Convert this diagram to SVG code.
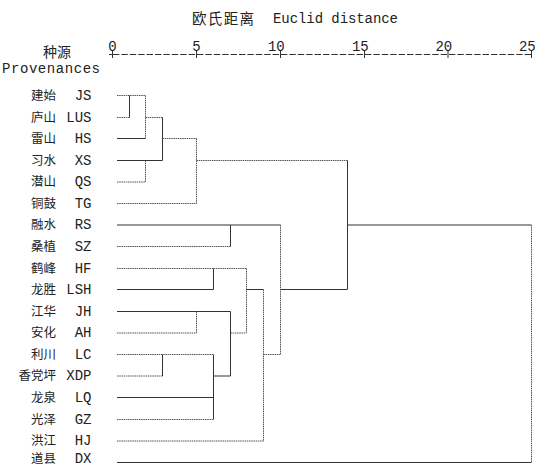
<svg xmlns="http://www.w3.org/2000/svg" width="535" height="467" viewBox="0 0 535 467">
<style>
.bg{fill:#fff}
.cn{font-family:"Noto Sans CJK SC","Noto Sans CJK JP",sans-serif;font-size:12.5px;fill:#222;text-anchor:end}
.cd{font-family:"Liberation Mono",monospace;font-size:14px;fill:#222;text-anchor:end}
.mono{font-family:"Liberation Mono",monospace;font-size:14px;fill:#222}
.s{stroke:#333;stroke-width:1;fill:none}
.d{stroke:#555;stroke-width:1;fill:none;stroke-dasharray:1.5 0.7}
.ax{stroke:#333;stroke-width:1;fill:none;stroke-dasharray:6.4 2}
.tk{stroke:#333;stroke-width:1}
</style>
<rect class="bg" x="0" y="0" width="535" height="467"/>
<g id="title">
<text x="192" y="24" style="font-family:'Noto Sans CJK SC',sans-serif;font-size:14.5px;fill:#222" textLength="62">欧氏距离</text>
<text class="mono" x="273" y="23" textLength="125">Euclid distance</text>
</g>
<g id="header">
<text x="43" y="57" style="font-family:'Noto Sans CJK SC',sans-serif;font-size:14px;fill:#222">种源</text>
<text class="mono" x="2" y="73" textLength="98">Provenances</text>
</g>
<g id="axis">
<line class="ax" x1="113" y1="54.5" x2="531.5" y2="54.5"/>
<line class="tk" x1="112.5" y1="51" x2="112.5" y2="58"/>
<line class="tk" x1="196.5" y1="51" x2="196.5" y2="58"/>
<line class="tk" x1="280.5" y1="51" x2="280.5" y2="58"/>
<line class="tk" x1="364.5" y1="51" x2="364.5" y2="58"/>
<line class="tk" x1="448" y1="51" x2="448" y2="58"/>
<line class="tk" x1="531.5" y1="51" x2="531.5" y2="58"/>
<line class="tk" x1="109" y1="54.5" x2="116" y2="54.5"/>
<text class="mono" x="112.5" y="50.5" text-anchor="middle">0</text>
<text class="mono" x="196.5" y="50.5" text-anchor="middle">5</text>
<text class="mono" x="284.7" y="50.5" text-anchor="end">10</text>
<text class="mono" x="368.7" y="50.5" text-anchor="end">15</text>
<text class="mono" x="452.2" y="50.5" text-anchor="end">20</text>
<text class="mono" x="535.7" y="50.5" text-anchor="end">25</text>
</g>
<g id="leaf-JS"><text class="cn" x="56" y="99.5">建始</text><text class="cd" x="91.5" y="99.5">JS</text></g>
<g id="leaf-LUS"><text class="cn" x="56" y="121.5">庐山</text><text class="cd" x="91.5" y="121.5">LUS</text></g>
<g id="leaf-HS"><text class="cn" x="56" y="142.5">雷山</text><text class="cd" x="91.5" y="142.5">HS</text></g>
<g id="leaf-XS"><text class="cn" x="56" y="164.5">习水</text><text class="cd" x="91.5" y="164.5">XS</text></g>
<g id="leaf-QS"><text class="cn" x="56" y="186">潜山</text><text class="cd" x="91.5" y="186">QS</text></g>
<g id="leaf-TG"><text class="cn" x="56" y="207.5">铜鼓</text><text class="cd" x="91.5" y="207.5">TG</text></g>
<g id="leaf-RS"><text class="cn" x="56" y="229">融水</text><text class="cd" x="91.5" y="229">RS</text></g>
<g id="leaf-SZ"><text class="cn" x="56" y="250.5">桑植</text><text class="cd" x="91.5" y="250.5">SZ</text></g>
<g id="leaf-HF"><text class="cn" x="56" y="272.5">鹤峰</text><text class="cd" x="91.5" y="272.5">HF</text></g>
<g id="leaf-LSH"><text class="cn" x="56" y="293.5">龙胜</text><text class="cd" x="91.5" y="293.5">LSH</text></g>
<g id="leaf-JH"><text class="cn" x="56" y="315.5">江华</text><text class="cd" x="91.5" y="315.5">JH</text></g>
<g id="leaf-AH"><text class="cn" x="56" y="337">安化</text><text class="cd" x="91.5" y="337">AH</text></g>
<g id="leaf-LC"><text class="cn" x="56" y="358.5">利川</text><text class="cd" x="91.5" y="358.5">LC</text></g>
<g id="leaf-XDP"><text class="cn" x="56" y="380">香党坪</text><text class="cd" x="91.5" y="380">XDP</text></g>
<g id="leaf-LQ"><text class="cn" x="56" y="401.5">龙泉</text><text class="cd" x="91.5" y="401.5">LQ</text></g>
<g id="leaf-GZ"><text class="cn" x="56" y="423.5">光泽</text><text class="cd" x="91.5" y="423.5">GZ</text></g>
<g id="leaf-HJ"><text class="cn" x="56" y="445">洪江</text><text class="cd" x="91.5" y="445">HJ</text></g>
<g id="leaf-DX"><text class="cn" x="56" y="462.5">道县</text><text class="cd" x="91.5" y="462.5">DX</text></g>
<g id="connectors">
<line class="d" x1="117" y1="95.5" x2="145.5" y2="95.5"/>
<line class="d" x1="117" y1="117.5" x2="129.5" y2="117.5"/>
<line class="s" x1="129.5" y1="95.5" x2="129.5" y2="117.5"/>
<line class="d" x1="145.5" y1="95.5" x2="145.5" y2="138.5"/>
<line class="s" x1="117" y1="138.5" x2="145.5" y2="138.5"/>
<line class="d" x1="145.5" y1="117.5" x2="162.5" y2="117.5"/>
<line class="s" x1="162.5" y1="117.5" x2="162.5" y2="160.5"/>
<line class="s" x1="117" y1="160.5" x2="162.5" y2="160.5"/>
<line class="d" x1="117" y1="182" x2="145.5" y2="182"/>
<line class="d" x1="145.5" y1="160.5" x2="145.5" y2="182"/>
<line class="d" x1="162.5" y1="138.5" x2="196.5" y2="138.5"/>
<line class="d" x1="196.5" y1="138.5" x2="196.5" y2="203.5"/>
<line class="d" x1="117" y1="203.5" x2="196.5" y2="203.5"/>
<line class="d" x1="196.5" y1="160.5" x2="347.5" y2="160.5"/>
<line class="s" x1="347.5" y1="160.5" x2="347.5" y2="289.5"/>
<line class="s" x1="117" y1="225" x2="280.5" y2="225"/>
<line class="d" x1="117" y1="246.5" x2="230.5" y2="246.5"/>
<line class="s" x1="230.5" y1="225" x2="230.5" y2="246.5"/>
<line class="d" x1="117" y1="268.5" x2="246.5" y2="268.5"/>
<line class="s" x1="117" y1="289.5" x2="213.5" y2="289.5"/>
<line class="s" x1="213.5" y1="268.5" x2="213.5" y2="289.5"/>
<line class="s" x1="117" y1="311.5" x2="230.5" y2="311.5"/>
<line class="d" x1="117" y1="333" x2="196.5" y2="333"/>
<line class="d" x1="196.5" y1="311.5" x2="196.5" y2="333"/>
<line class="d" x1="117" y1="354.5" x2="213.5" y2="354.5"/>
<line class="d" x1="117" y1="376" x2="162.5" y2="376"/>
<line class="s" x1="162.5" y1="354.5" x2="162.5" y2="376"/>
<line class="s" x1="117" y1="397.5" x2="213.5" y2="397.5"/>
<line class="d" x1="117" y1="419.5" x2="213.5" y2="419.5"/>
<line class="s" x1="213.5" y1="354.5" x2="213.5" y2="419.5"/>
<line class="s" x1="213.5" y1="376" x2="230.5" y2="376"/>
<line class="s" x1="230.5" y1="311.5" x2="230.5" y2="376"/>
<line class="d" x1="230.5" y1="333" x2="246.5" y2="333"/>
<line class="d" x1="246.5" y1="268.5" x2="246.5" y2="333"/>
<line class="s" x1="246.5" y1="289.5" x2="263.5" y2="289.5"/>
<line class="d" x1="263.5" y1="289.5" x2="263.5" y2="441"/>
<line class="d" x1="117" y1="441" x2="263.5" y2="441"/>
<line class="d" x1="263.5" y1="354.5" x2="280.5" y2="354.5"/>
<line class="d" x1="280.5" y1="225" x2="280.5" y2="354.5"/>
<line class="s" x1="280.5" y1="289.5" x2="347.5" y2="289.5"/>
<line class="s" x1="347.5" y1="225" x2="531.5" y2="225"/>
<line class="d" x1="531.5" y1="225" x2="531.5" y2="462.5"/>
<line class="s" x1="117" y1="462.5" x2="531.5" y2="462.5"/>
</g>
</svg>
